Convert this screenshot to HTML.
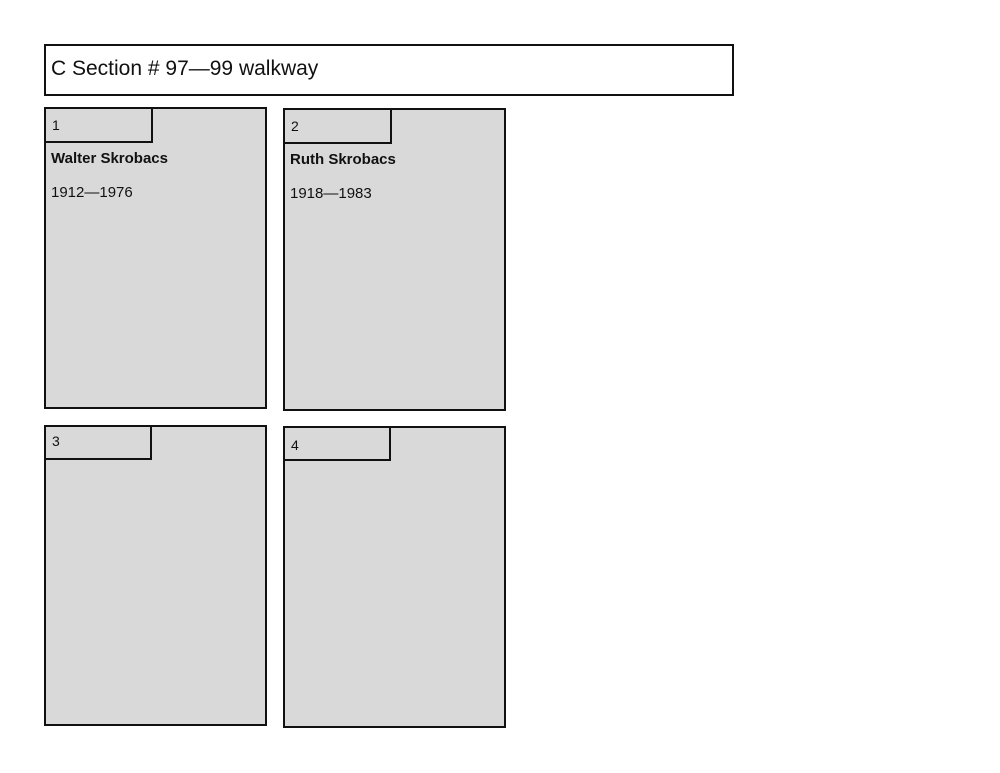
<!DOCTYPE html>
<html><head><style>
body{margin:0;width:1000px;height:773px;background:#fff;position:relative;font-family:"Liberation Sans",sans-serif;overflow:hidden}
div{position:absolute;box-sizing:border-box}
.b{background:#d9d9d9;border:2.5px solid #111}
.t{border:2.5px solid #111;border-top:none;border-left:none;font-size:14px;padding:8px 0 0 6px;color:#111}
.n{font-weight:bold;font-size:15px;color:#111}
.d{font-size:15px;color:#111}
</style></head><body>
<div style="left:44px;top:44px;width:690px;height:52px;border:2.5px solid #111;font-size:21px;padding:11px 0 0 5px;color:#111">C Section # 97—99 walkway</div>

<div class="b" style="left:44px;top:107px;width:223px;height:302px"><div class="t" style="left:0;top:0;width:107px;height:34px">1</div></div>
<div class="n" style="left:51px;top:150px">Walter Skrobacs</div>
<div class="d" style="left:51px;top:184px">1912—1976</div>

<div class="b" style="left:283px;top:108px;width:223px;height:303px"><div class="t" style="left:0;top:0;width:107px;height:34px">2</div></div>
<div class="n" style="left:290px;top:151px">Ruth Skrobacs</div>
<div class="d" style="left:290px;top:185px">1918—1983</div>

<div class="b" style="left:44px;top:425px;width:223px;height:301px"><div class="t" style="left:0;top:0;width:106px;height:33px;padding-top:6px">3</div></div>

<div class="b" style="left:283px;top:426px;width:223px;height:302px"><div class="t" style="left:0;top:0;width:106px;height:33px;padding-top:9px">4</div></div>
</body></html>
